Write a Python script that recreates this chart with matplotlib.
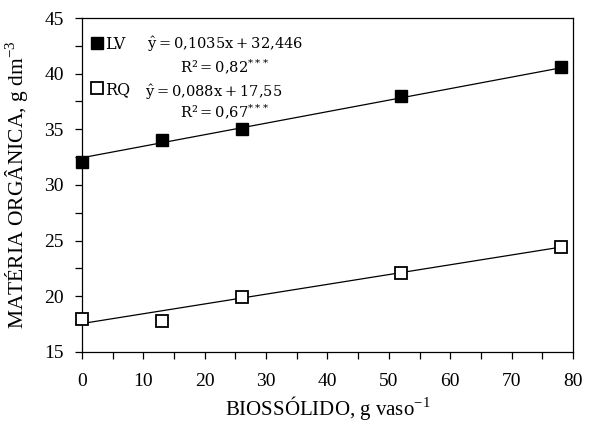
import numpy as np
import matplotlib.pyplot as plt
from matplotlib.lines import Line2D

# dados
doses = [0, 13, 26, 52, 78]
mo_lv = [32.1, 34.0, 35.0, 38.0, 40.6]
mo_rq = [18.0, 17.8, 19.9, 22.1, 24.4]

# coeficientes das regressões (da figura)
coef_lv = (0.1035, 32.446)
coef_rq = (0.088, 17.55)

xticks = [0, 10, 20, 30, 40, 50, 60, 70, 80]
yticks = [15, 20, 25, 30, 35, 40, 45]

plt.rcParams["font.family"] = "Liberation Serif"
plt.rcParams["mathtext.fontset"] = "stix"

fig = plt.figure(figsize=(6.05, 4.24), dpi=100)
ax = fig.add_axes([0.1355, 0.170, 0.8115, 0.7875])

xfit = np.linspace(0, 78, 50)
ax.plot(xfit, coef_lv[0] * xfit + coef_lv[1], color="black", lw=0.9)
ax.plot(xfit, coef_rq[0] * xfit + coef_rq[1], color="black", lw=0.9)

ax.plot(doses, mo_lv, ls="none", marker="s", ms=9, mfc="black", mec="black", clip_on=False, zorder=3)
ax.plot(doses, mo_rq, ls="none", marker="s", ms=9, mfc="white", mec="black", mew=1.3, clip_on=False, zorder=3)

ax.set_xlim(0, 80)
ax.set_ylim(15, 45)
ax.set_xticks(xticks)
ax.set_yticks(yticks)
ax.set_xticks(np.arange(5, 80, 10), minor=True)
ax.set_yticks(np.arange(17.5, 45, 5), minor=True)
ax.tick_params(which="both", direction="out", labelsize=14, width=0.9, length=5)
ax.tick_params(axis="x", which="major", pad=10)
ax.tick_params(axis="y", which="major", pad=8)
for s in ax.spines.values():
    s.set_linewidth(0.9)

ax.set_xlabel("BIOSSÓLIDO, g vaso$^{\\mathregular{-1}}$", fontsize=15, labelpad=3)
ax.set_ylabel("MATÉRIA ORGÂNICA, g dm$^{\\mathregular{-3}}$", fontsize=15.5, labelpad=10)

# legenda com equações
handles = [
    Line2D([], [], ls="none", marker="s", ms=9, mfc="black", mec="black"),
    Line2D([], [], ls="none", marker="s", ms=9, mfc="white", mec="black", mew=1.3),
]
ax.legend(handles, ["LV", "RQ"], loc="upper left", bbox_to_anchor=(-0.01, 0.99),
          frameon=False, handlelength=0.7, handletextpad=0.15, labelspacing=1.75,
          prop={"family": "DejaVu Serif", "size": 11.5})

ts = "\u2009"
eq_kw = dict(transform=ax.transAxes, fontsize=10.5, family="DejaVu Serif", va="center")
ax.text(0.133, 0.922, r"$\hat{\mathregular{y}}$" + f"{ts}={ts}0,1035x{ts}+{ts}32,446", **eq_kw)
ax.text(0.200, 0.853, f"R²{ts}={ts}0,82" + r"$^{\mathregular{***}}$", **eq_kw)
ax.text(0.129, 0.778, r"$\hat{\mathregular{y}}$" + f"{ts}={ts}0,088x{ts}+{ts}17,55", **eq_kw)
ax.text(0.200, 0.719, f"R²{ts}={ts}0,67" + r"$^{\mathregular{***}}$", **eq_kw)

fig.savefig("out.png", dpi=100)
